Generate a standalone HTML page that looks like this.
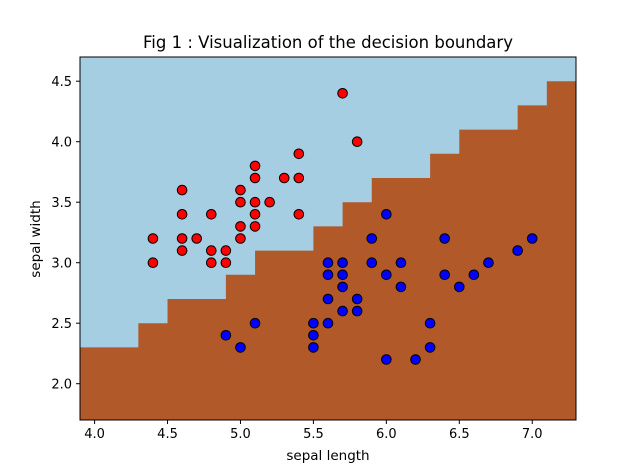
<!DOCTYPE html>
<html><head><meta charset="utf-8"><style>
body{margin:0;background:#fff;}
svg{display:block;font-family:"DejaVu Sans","Liberation Sans",sans-serif;}
</style></head><body>
<svg id="chart" width="640" height="472">
<text x="328" y="48" text-anchor="middle" font-size="16.5">Fig 1 : Visualization of the decision boundary</text>
<g id="plot"></g>
<text x="328" y="460" text-anchor="middle" font-size="13.5">sepal length</text>
<text x="0" y="0" transform="translate(40,239) rotate(-90)" text-anchor="middle" font-size="13.5">sepal width</text>
</svg>
<script>
const boundaryX = [3.9,4.3,4.5,4.9,5.1,5.5,5.7,5.9,6.3,6.5,6.9,7.1,7.3];
const boundaryY = [2.3,2.5,2.7,2.9,3.1,3.3,3.5,3.7,3.9,4.1,4.3,4.5];
const setosaX = [4.4,4.4,4.6,4.6,4.6,4.6,4.7,4.8,4.8,4.8,4.9,4.9,5.0,5.0,5.0,5.0,5.1,5.1,5.1,5.1,5.1,5.2,5.3,5.4,5.4,5.4,5.7,5.8];
const setosaY = [3.2,3.0,3.6,3.4,3.2,3.1,3.2,3.4,3.1,3.0,3.1,3.0,3.6,3.5,3.3,3.2,3.8,3.7,3.5,3.4,3.3,3.5,3.7,3.9,3.7,3.4,4.4,4.0];
const versiX = [4.9,5.0,5.1,5.5,5.5,5.5,5.6,5.6,5.6,5.6,5.7,5.7,5.7,5.7,5.8,5.8,5.9,5.9,6.0,6.0,6.0,6.1,6.1,6.2,6.3,6.3,6.4,6.4,6.5,6.6,6.7,6.9,7.0];
const versiY = [2.4,2.3,2.5,2.5,2.4,2.3,3.0,2.9,2.7,2.5,3.0,2.9,2.8,2.6,2.7,2.6,3.2,3.0,3.4,2.9,2.2,3.0,2.8,2.2,2.5,2.3,3.2,2.9,2.8,2.9,3.0,3.1,3.2];
const xTicks = ["4.0","4.5","5.0","5.5","6.0","6.5","7.0"];
const yTicks = ["2.0","2.5","3.0","3.5","4.0","4.5"];

const X0=80,X1=576,Y0=57,Y1=420,xmin=3.9,xmax=7.3,ymin=1.7,ymax=4.7;
const sx=v=>X0+(v-xmin)/(xmax-xmin)*(X1-X0);
const sy=v=>Y1-(v-ymin)/(ymax-ymin)*(Y1-Y0);
const NS="http://www.w3.org/2000/svg";
const g=document.getElementById('plot');
function mk(t,a){const e=document.createElementNS(NS,t);for(const k in a)e.setAttribute(k,a[k]);g.appendChild(e);return e;}

let bg=mk('rect',{x:X0,y:Y0,width:X1-X0,height:Y1-Y0,fill:'#a6cee3'});


let d='M'+sx(boundaryX[0])+','+sy(ymin);
for(let i=0;i<boundaryY.length;i++){d+=' L'+sx(boundaryX[i])+','+sy(boundaryY[i])+' L'+sx(boundaryX[i+1])+','+sy(boundaryY[i]);}
d+=' L'+sx(xmax)+','+sy(ymin)+' Z';
let reg=mk('path',{d:d,fill:'#b15928'});



function pts(xs,ys,col,name){for(let i=0;i<xs.length;i++){let c=mk('circle',{cx:sx(xs[i]),cy:sy(ys[i]),r:4.8,fill:col,stroke:'#000','stroke-width':1});

}}
pts(setosaX,setosaY,'#ff0000','setosa-point');
pts(versiX,versiY,'#0000ff','versicolor-point');

let fr=mk('rect',{x:X0,y:Y0,width:X1-X0,height:Y1-Y0,fill:'none',stroke:'#000','stroke-width':1});


xTicks.forEach(t=>{const x=sx(+t);mk('line',{x1:x,x2:x,y1:Y1,y2:Y1+4,stroke:'#000'});
let tx=mk('text',{x:x,y:Y1+18,'text-anchor':'middle','font-size':13});tx.textContent=t;

});
yTicks.forEach(t=>{const y=sy(+t);mk('line',{x1:X0-4,x2:X0,y1:y,y2:y,stroke:'#000'});
let tx=mk('text',{x:X0-8,y:y+5,'text-anchor':'end','font-size':13});tx.textContent=t;

});
</script>
</body></html>
